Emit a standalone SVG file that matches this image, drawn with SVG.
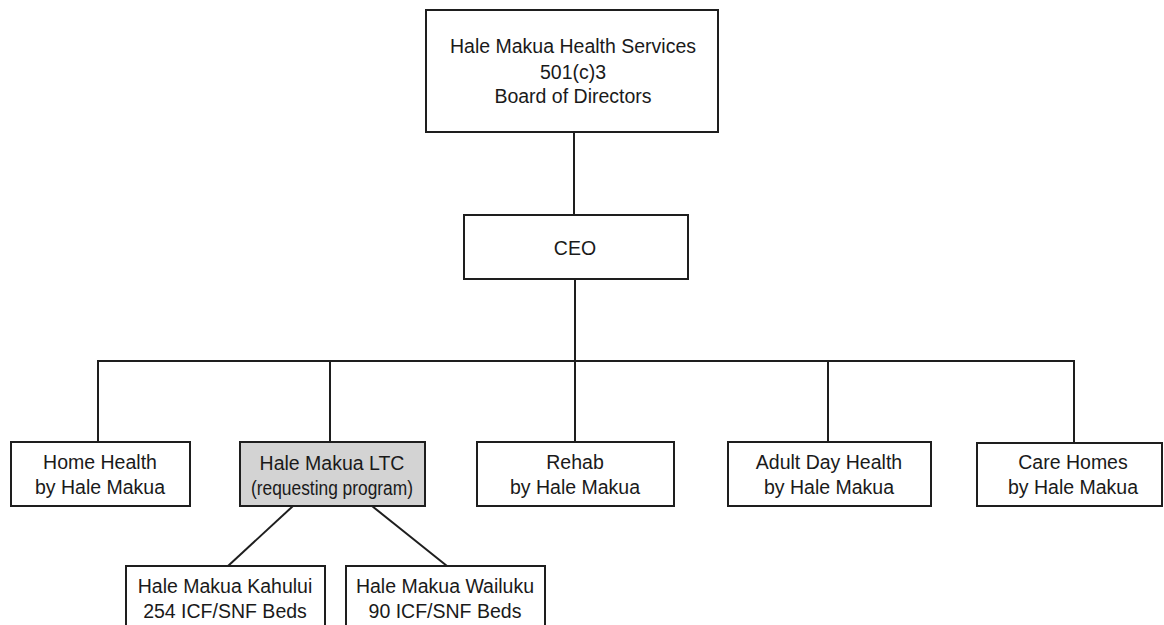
<svg xmlns="http://www.w3.org/2000/svg" width="1164" height="625" viewBox="0 0 1164 625">
<style>
.box{fill:#fff;stroke:#1e1e1e;stroke-width:2}
.hl{fill:#d3d3d3;stroke:#1e1e1e;stroke-width:2}
.t{font-family:"Liberation Sans",Arial,sans-serif;font-size:19.5px;fill:#1a1a1a;text-anchor:middle}
.c{stroke:#1e1e1e;stroke-width:2;fill:none}
</style>
<rect width="1164" height="625" fill="#fff"/>
<g id="connectors">
<line class="c" x1="574" y1="132" x2="574" y2="215"/>
<line class="c" x1="575" y1="279" x2="575" y2="442"/>
<line class="c" x1="97" y1="361" x2="1075" y2="361"/>
<line class="c" x1="98" y1="361" x2="98" y2="442"/>
<line class="c" x1="330" y1="361" x2="330" y2="442"/>
<line class="c" x1="828" y1="361" x2="828" y2="442"/>
<line class="c" x1="1074" y1="361" x2="1074" y2="443"/>
<line class="c" x1="293" y1="506" x2="228" y2="566"/>
<line class="c" x1="372" y1="506" x2="447" y2="566"/>
</g>
<g id="board">
<rect class="box" x="426" y="10" width="292" height="122"/>
<text class="t" x="573" y="53">Hale Makua Health Services</text>
<text class="t" x="573" y="79">501(c)3</text>
<text class="t" x="573" y="103">Board of Directors</text>
</g>
<g id="ceo">
<rect class="box" x="464" y="215" width="224" height="64"/>
<text class="t" x="575" y="255">CEO</text>
</g>
<g id="home-health">
<rect class="box" x="11" y="442" width="179" height="64"/>
<text class="t" x="100" y="469">Home Health</text>
<text class="t" x="100" y="494">by Hale Makua</text>
</g>
<g id="ltc">
<rect class="hl" x="240" y="442" width="185" height="64"/>
<text class="t" x="332" y="470">Hale Makua LTC</text>
<text class="t" x="332" y="495" textLength="162" lengthAdjust="spacingAndGlyphs">(requesting program)</text>
</g>
<g id="rehab">
<rect class="box" x="477" y="442" width="197" height="64"/>
<text class="t" x="575" y="469">Rehab</text>
<text class="t" x="575" y="494">by Hale Makua</text>
</g>
<g id="adult-day">
<rect class="box" x="728" y="442" width="203" height="64"/>
<text class="t" x="829" y="469">Adult Day Health</text>
<text class="t" x="829" y="494">by Hale Makua</text>
</g>
<g id="care-homes">
<rect class="box" x="977" y="443" width="185" height="63"/>
<text class="t" x="1073" y="469">Care Homes</text>
<text class="t" x="1073" y="494">by Hale Makua</text>
</g>
<g id="kahului">
<rect class="box" x="126" y="566" width="199" height="70"/>
<text class="t" x="225" y="593">Hale Makua Kahului</text>
<text class="t" x="225" y="618">254 ICF/SNF Beds</text>
</g>
<g id="wailuku">
<rect class="box" x="346" y="566" width="199" height="70"/>
<text class="t" x="445" y="593">Hale Makua Wailuku</text>
<text class="t" x="445" y="618">90 ICF/SNF Beds</text>
</g>
</svg>
